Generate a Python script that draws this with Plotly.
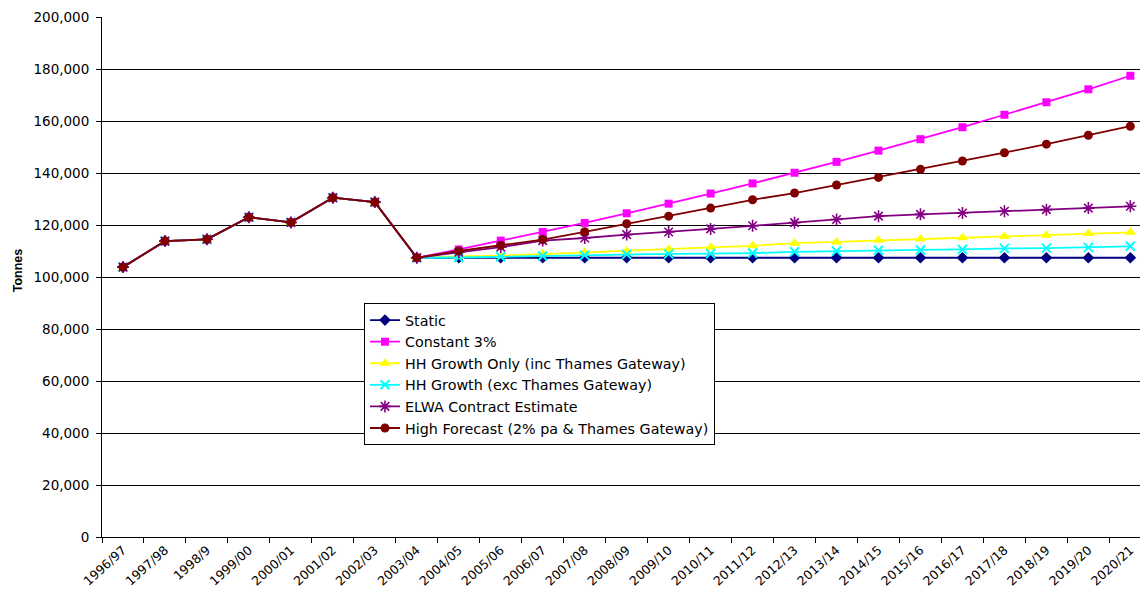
import plotly.graph_objects as go

# Financial years on the category axis
years = [
    "1996/97", "1997/98", "1998/9", "1999/00", "2000/01", "2001/02", "2002/03",
    "2003/04", "2004/05", "2005/06", "2006/07", "2007/08", "2008/09", "2009/10",
    "2010/11", "2011/12", "2012/13", "2013/14", "2014/15", "2015/16", "2016/17",
    "2017/18", "2018/19", "2019/20", "2020/21",
]

# Recorded tonnages 1996/97 - 2003/04 (shared by every scenario)
history = [103800, 113800, 114500, 123000, 121000, 130500, 128800, 107400]

# Scenario projections 2004/05 - 2020/21
static = [107400, 107400, 107400, 107400, 107400, 107400, 107400, 107400, 107400,
          107400, 107400, 107400, 107400, 107400, 107400, 107400, 107400]
constant_3pct = [110600, 114000, 117300, 120800, 124500, 128200, 132100, 136000, 140100,
                 144300, 148600, 153000, 157600, 162400, 167200, 172200, 177400]
hh_growth_inc_tg = [107900, 108200, 108800, 109500, 110000, 110700, 111400, 112000, 113000,
                    113500, 114100, 114600, 115100, 115600, 116100, 116700, 117200]
hh_growth_exc_tg = [107500, 107800, 108100, 108400, 108700, 108900, 109000, 109200, 109700,
                    110000, 110300, 110400, 110600, 111000, 111100, 111400, 111800]
elwa_contract = [109500, 111500, 114000, 115000, 116300, 117300, 118500, 119700, 120900,
                 122100, 123400, 124100, 124600, 125300, 125900, 126500, 127200]
high_forecast = [110000, 112200, 114400, 117400, 120500, 123400, 126500, 129700, 132300,
                 135400, 138300, 141400, 144600, 147800, 151100, 154500, 158000]

series = [
    ("Static", static, "#000080", dict(symbol="diamond", size=9)),
    ("Constant 3%", constant_3pct, "#FF00FF", dict(symbol="square", size=8)),
    ("HH Growth Only (inc Thames Gateway)", hh_growth_inc_tg, "#FFFF00",
     dict(symbol="triangle-up", size=10)),
    ("HH Growth (exc Thames Gateway)", hh_growth_exc_tg, "#00FFFF",
     dict(symbol="x-thin-open", size=9, line=dict(width=2))),
    ("ELWA Contract Estimate", elwa_contract, "#800080",
     dict(symbol="asterisk-open", size=10, line=dict(width=1.6))),
    ("High Forecast (2% pa & Thames Gateway)", high_forecast, "#800000",
     dict(symbol="circle", size=9)),
]

FONT = "Liberation Sans, Arial, sans-serif"
WIDE = "DejaVu Sans, sans-serif"

fig = go.Figure()
for name, proj, color, marker in series:
    m = dict(color=color, **marker)
    if "line" in marker:
        m["line"] = dict(color=color, width=marker["line"]["width"])
    fig.add_trace(go.Scatter(
        x=years,
        y=history + proj,
        mode="lines+markers",
        name=name,
        line=dict(color=color, width=1.8),
        marker=m,
    ))

fig.update_layout(
    width=1140,
    height=593,
    margin=dict(l=102, r=0, t=17, b=56),
    paper_bgcolor="white",
    plot_bgcolor="white",
    font=dict(family=FONT, color="black", size=13),
    showlegend=True,
    legend=dict(
        x=0.2524, y=0.4495, xanchor="left", yanchor="top",
        bgcolor="white", bordercolor="black", borderwidth=1,
        font=dict(family=WIDE, size=14.3, color="black"),
        tracegroupgap=0, itemwidth=30,
    ),
    # vertical axis caption, set slightly above the plot's mid-height
    annotations=[dict(
        text="<b>Tonnes</b>", textangle=-90, showarrow=False,
        xref="paper", yref="paper", x=-0.0814, y=0.512,
        xanchor="center", yanchor="middle",
        font=dict(family=FONT, size=12.5, color="black"),
    )],
)

fig.update_xaxes(
    type="category",
    range=[-0.5, 24.23],
    tickson="boundaries",
    ticks="outside", ticklen=5, tickcolor="black",
    tickangle=-42,
    tickfont=dict(family=WIDE, size=12.5, color="black"),
    showline=True, linecolor="black", linewidth=1,
    showgrid=False, zeroline=False,
)

fig.update_yaxes(
    range=[0, 200000],
    tickvals=list(range(0, 200001, 20000)),
    tickformat=",d",
    ticks="outside", ticklen=5, tickcolor="black",
    ticklabelstandoff=4,
    tickfont=dict(family=WIDE, size=13.5, color="black"),
    showline=True, linecolor="black", linewidth=1,
    showgrid=True, gridcolor="black", gridwidth=1,
    zeroline=False,
)

fig.write_html("out.html")
